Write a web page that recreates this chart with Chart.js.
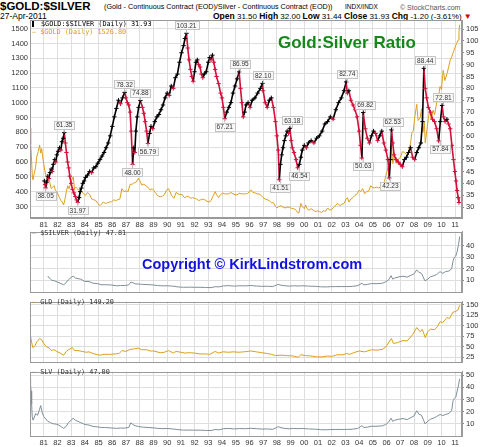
<!DOCTYPE html>
<html>
<head>
<meta charset="utf-8">
<script src="https://cdn.jsdelivr.net/npm/chart.js@4.4.1/dist/chart.umd.min.js"></script>
<style>
  body { margin:0; background:#fff; width:489px; height:447px; overflow:hidden; position:relative; font-family:"Liberation Sans", Arial, sans-serif; }
  canvas { position:absolute; left:0; }
  .t { position:absolute; white-space:nowrap; line-height:1; color:#000; }
  .mono { font-family:"DejaVu Sans Mono", monospace; font-size:6.8px; }
</style>
</head>
<body>
<div class="t" style="left:0;top:1px;font-size:11.5px;font-weight:bold">$GOLD:$SILVER</div>
<div class="t" style="left:104px;top:3px;font-size:7.2px">(Gold - Continuous Contract (EOD)/Silver - Continuous Contract (EOD))</div>
<div class="t" style="left:345px;top:3.5px;font-size:6.5px">INDX/INDX</div>
<div class="t" style="left:400px;top:3.5px;font-size:7px;color:#555">© StockCharts.com</div>
<div class="t" style="left:0;top:12px;font-size:8.5px">27-Apr-2011</div>
<div class="t" style="left:213px;top:12px;font-size:8px"><b style="font-size:8.5px">Open</b> 31.50 <b style="font-size:8.5px">High</b> 32.00 <b style="font-size:8.5px">Low</b> 31.44 <b style="font-size:8.5px">Close</b> 31.93 <b style="font-size:8.5px">Chg</b> -1.20 (-3.61%) <span style="color:#c00">&#9660;</span></div>

<canvas id="main" width="489" height="232" style="top:0"></canvas>
<canvas id="silver" width="489" height="74" style="top:225px"></canvas>
<canvas id="gld" width="489" height="74" style="top:295px"></canvas>
<canvas id="slv" width="489" height="82" style="top:365px"></canvas>

<div class="t mono" style="left:32px;top:21px"><span style="display:inline-block;width:5px;height:6px;border-left:2px solid #000;margin-right:2px;vertical-align:-1px"></span>$GOLD:$SILVER (Daily) 31.93</div>
<div class="t mono" style="left:32px;top:29px;color:#d99a0e">— $GOLD (Daily) 1526.80</div>
<div class="t mono" style="left:32px;top:230px;color:#333"><span style="color:#7f8f97">—</span> $SILVER (Daily) 47.81</div>
<div class="t mono" style="left:32px;top:299px;color:#333"><span style="color:#d99a0e">—</span> GLD (Daily) 149.20</div>
<div class="t mono" style="left:32px;top:369px;color:#333"><span style="color:#7f8f97">—</span> SLV (Daily) 47.00</div>

<div class="t" style="left:278px;top:34px;font-size:17px;font-weight:bold;color:#14891a">Gold:Silver Ratio</div>
<div class="t" style="left:142px;top:257px;font-size:14.5px;font-weight:bold;color:#1212e6">Copyright © KirkLindstrom.com</div>

<script>
// gold:silver ratio (right axis, main panel)
const ratioDates = [1981.05,1981.1,1981.14,1981.22,1981.3,1981.38,1981.46,1981.55,1981.62,1981.7,1981.8,1981.88,1981.96,
  1982.05,1982.15,1982.25,1982.33,1982.42,1982.5,1982.58,1982.66,1982.74,1982.82,1982.9,1983.0,1983.1,1983.2,1983.3,1983.4,1983.48,
  1983.58,1983.66,1983.75,1983.85,1983.95,1984.05,1984.2,1984.35,1984.5,1984.65,1984.8,1984.95,1985.1,1985.25,1985.4,1985.55,
  1985.7,1985.85,1986.0,1986.15,1986.3,1986.45,1986.6,1986.75,1986.9,1987.0,1987.1,1987.2,1987.3,1987.38,1987.48,1987.56,
  1987.64,1987.72,1987.82,1987.92,1988.05,1988.2,1988.3,1988.4,1988.5,1988.6,1988.72,1988.82,1988.95,1989.1,1989.25,1989.4,
  1989.55,1989.7,1989.85,1990.0,1990.15,1990.3,1990.45,1990.6,1990.75,1990.9,1991.05,1991.2,1991.3,1991.41,1991.5,1991.6,
  1991.7,1991.8,1991.9,1992.0,1992.1,1992.2,1992.3,1992.4,1992.5,1992.6,1992.7,1992.85,1993.0,1993.1,1993.2,1993.3,1993.4,
  1993.5,1993.6,1993.75,1993.9,1994.0,1994.1,1994.2,1994.35,1994.5,1994.65,1994.8,1994.95,1995.1,1995.25,1995.35,1995.45,
  1995.55,1995.65,1995.75,1995.9,1996.05,1996.2,1996.4,1996.6,1996.8,1996.95,1997.0,1997.15,1997.3,1997.45,1997.6,1997.75,
  1997.9,1998.0,1998.1,1998.18,1998.26,1998.35,1998.45,1998.55,1998.65,1998.75,1998.85,1998.95,1999.05,1999.13,1999.25,
  1999.4,1999.52,1999.64,1999.75,1999.85,2000.0,2000.15,2000.3,2000.5,2000.7,2000.9,2001.1,2001.3,2001.5,2001.7,2001.9,
  2002.1,2002.3,2002.5,2002.7,2002.9,2003.05,2003.14,2003.25,2003.4,2003.55,2003.7,2003.85,2004.0,2004.1,2004.2,2004.3,
  2004.45,2004.6,2004.75,2004.9,2005.05,2005.2,2005.35,2005.5,2005.65,2005.8,2005.95,2006.1,2006.2,2006.28,2006.36,2006.45,
  2006.55,2006.7,2006.85,2007.0,2007.15,2007.3,2007.45,2007.6,2007.75,2007.9,2008.05,2008.2,2008.35,2008.5,2008.62,2008.72,
  2008.82,2008.92,2009.05,2009.2,2009.35,2009.5,2009.65,2009.8,2009.92,2010.05,2010.15,2010.27,2010.4,2010.52,2010.64,
  2010.76,2010.88,2010.98,2011.06,2011.14,2011.22,2011.28,2011.33];
const ratioValues = [41,39.5,38.05,40.5,43,42,44.5,46,45,48,50,49,52,
  53.5,55,54,57.5,59,61.35,57,53,49,46.5,43,40,37.5,36,34.5,33,31.97,
  34,36.5,38,40,41,42.5,43.5,45,44.5,46.5,47,48.5,50,51.5,53,55,
  57,60,64,68,71.5,75,73.5,76,78.32,76,74,73,70,62,48,55,
  53,62,68,72,74.88,72,69.5,66,62,56.79,61,64,63,66,68,69,
  71,73,76,78,77,81,80,84.5,86,91,95,98,101,103.21,97,92,
  88,85,83,87,91,92,90,89,86,84.5,86,87,91,93,92,94,91,
  88,85,82,78,76,72,67.21,70,72,74,78,81,84,86.95,80,
  74,68,70,73,74,72,75,76,78,80,82.1,79,74,72,75,76,
  72,66,60,54,41.51,48,52,55,58,60,62,61,63.18,58,55,
  53,50,46.54,48,51,54,56,55,57,58,57,59,60,62,65,66,
  68,67,71,74,76,79,82.74,78,79,75,73,71,68,62,56,50.63,
  69.82,63,59,57,60,62,61,58,60,62,57,54,50,42.23,50,62.53,
  57,52,50,49,48,47,50,51,53,55,51,50,53,55,57,66,
  88.44,80,76,72,70,67,66,63,57.84,66,72.81,68,66,67,65,
  63,56,50,45,41,37,34,31.93];

// gold (left axis, main panel)
const goldDates = [1980.0,1980.05,1980.1,1980.17,1980.22,1980.3,1980.4,1980.5,1980.6,1980.7,1980.78,1980.85,1980.95,
  1981.05,1981.15,1981.25,1981.35,1981.45,1981.55,1981.65,1981.75,1981.85,1981.95,1982.05,1982.15,1982.25,1982.35,1982.45,
  1982.55,1982.65,1982.75,1982.85,1982.95,1983.05,1983.15,1983.25,1983.35,1983.45,1983.55,1983.65,1983.75,1983.9,1984.05,
  1984.2,1984.35,1984.5,1984.65,1984.8,1984.95,1985.1,1985.2,1985.35,1985.5,1985.65,1985.8,1985.95,1986.1,1986.25,1986.4,
  1986.55,1986.7,1986.85,1987.0,1987.15,1987.3,1987.45,1987.6,1987.75,1987.9,1988.0,1988.15,1988.3,1988.45,1988.6,1988.75,
  1988.9,1989.05,1989.2,1989.35,1989.5,1989.65,1989.8,1989.95,1990.1,1990.2,1990.35,1990.5,1990.65,1990.8,1990.95,1991.1,
  1991.25,1991.4,1991.55,1991.7,1991.85,1992.0,1992.15,1992.3,1992.45,1992.6,1992.75,1992.9,1993.05,1993.2,1993.35,1993.5,
  1993.6,1993.75,1993.9,1994.05,1994.2,1994.35,1994.5,1994.65,1994.8,1994.95,1995.1,1995.25,1995.4,1995.55,1995.7,1995.85,
  1996.0,1996.1,1996.25,1996.4,1996.55,1996.7,1996.85,1997.0,1997.15,1997.3,1997.45,1997.6,1997.75,1997.9,1998.0,1998.15,
  1998.3,1998.45,1998.6,1998.75,1998.9,1999.05,1999.2,1999.35,1999.5,1999.6,1999.75,1999.85,2000.0,2000.1,2000.2,2000.35,
  2000.5,2000.65,2000.8,2000.95,2001.1,2001.25,2001.4,2001.55,2001.7,2001.85,2002.0,2002.15,2002.3,2002.45,2002.6,2002.75,
  2002.9,2003.05,2003.15,2003.25,2003.4,2003.55,2003.7,2003.85,2004.0,2004.1,2004.25,2004.4,2004.55,2004.7,2004.85,2004.95,
  2005.1,2005.25,2005.4,2005.55,2005.7,2005.85,2005.95,2006.1,2006.25,2006.35,2006.45,2006.55,2006.7,2006.85,2007.0,2007.15,
  2007.3,2007.45,2007.6,2007.75,2007.85,2007.95,2008.05,2008.2,2008.3,2008.45,2008.55,2008.65,2008.75,2008.82,2008.95,
  2009.05,2009.15,2009.25,2009.4,2009.5,2009.65,2009.8,2009.9,2010.0,2010.13,2010.25,2010.42,2010.52,2010.64,2010.75,
  2010.86,2011.0,2011.1,2011.22,2011.28,2011.33];
const goldValues = [830,720,640,500,480,520,560,640,670,715,660,690,620,
  560,510,490,480,460,420,430,440,410,400,380,360,340,330,310,
  350,400,440,420,450,480,500,420,430,420,410,420,400,385,375,
  395,380,350,345,340,320,305,315,330,320,325,330,330,345,340,345,
  350,420,400,405,400,450,450,460,465,490,475,445,450,440,430,410,
  420,405,385,370,365,370,380,410,420,400,370,355,395,385,380,380,
  360,365,370,355,360,355,350,340,345,350,345,335,330,340,370,400,
  380,360,380,390,385,385,385,395,385,380,378,390,385,385,385,387,
  400,412,395,392,385,385,375,360,350,345,340,325,325,300,290,300,
  305,295,290,295,295,288,285,280,260,255,320,300,285,310,285,275,
  285,275,265,270,265,260,270,268,290,275,280,295,310,320,305,315,
  320,350,360,330,350,360,375,385,410,400,420,385,400,405,440,430,
  425,430,425,430,445,470,510,560,600,710,590,640,590,620,630,670,
  665,650,670,730,800,810,900,990,880,900,960,800,870,730,820,
  900,950,890,950,920,1000,1050,1110,1090,1220,1150,1200,1240,1290,1310,
  1340,1376,1400,1424,1480,1527];

// $SILVER panel
const silverDates = [1981.3,1981.4,1981.5,1981.6,1981.8,1982.0,1982.2,1982.45,1982.6,1982.8,1983.0,1983.15,1983.3,1983.5,
  1983.7,1984.0,1984.3,1984.6,1984.9,1985.2,1985.5,1985.9,1986.3,1986.6,1986.9,1987.2,1987.35,1987.5,1987.65,1987.9,1988.2,
  1988.6,1988.9,1989.3,1989.7,1990.0,1990.4,1990.8,1991.2,1991.6,1992.0,1992.4,1992.8,1993.2,1993.5,1993.8,1994.1,1994.5,
  1994.9,1995.3,1995.7,1996.1,1996.5,1996.9,1997.3,1997.7,1997.95,1998.1,1998.3,1998.6,1998.9,1999.2,1999.6,1999.9,2000.3,
  2000.8,2001.2,2001.6,2001.9,2002.3,2002.7,2003.1,2003.5,2003.9,2004.2,2004.35,2004.6,2004.9,2005.3,2005.7,2005.95,2006.15,
  2006.33,2006.45,2006.6,2006.9,2007.2,2007.5,2007.8,2008.0,2008.2,2008.35,2008.55,2008.7,2008.8,2009.0,2009.2,2009.45,
  2009.65,2009.9,2010.1,2010.3,2010.55,2010.75,2010.85,2010.95,2011.05,2011.15,2011.25,2011.33];
const silverValues = [13.7,12,11,10,9.5,8.5,7.5,6.2,7.5,10.5,12.5,13.7,12,11.5,
  11,9,9,7.5,7.2,6.2,6.2,6,5.3,5.5,5.5,6,8.5,8,7,6.8,6.5,
  6.3,6.1,5.5,5.2,5.3,5,4.3,4,4.1,4,4,3.8,3.7,4.5,4.3,5.2,5.4,
  5,5.3,5.2,5.5,5.1,4.8,4.9,4.6,5.8,6.5,5.8,5.3,5,5.3,5.1,5.3,5,
  4.8,4.4,4.3,4.5,4.6,4.6,4.6,4.8,5.4,7.5,6,6.5,7.2,7.1,7.5,8.8,10.5,
  14,11,12,13,13.5,12.8,14.5,15.5,19,17,16,12,9.5,11,13,14,
  15,17.5,16,17.5,18,20,27,30,31,35,41,47.81];

// GLD panel
const gldDates = [1980.0,1980.1,1980.2,1980.35,1980.5,1980.7,1980.85,1981.0,1981.2,1981.4,1981.55,1981.75,1981.95,1982.2,
  1982.45,1982.65,1982.8,1983.1,1983.25,1983.5,1983.8,1984.1,1984.3,1984.6,1984.95,1985.1,1985.4,1985.8,1986.2,1986.5,1986.7,
  1987.0,1987.3,1987.6,1987.9,1988.15,1988.5,1988.75,1989.0,1989.5,1989.8,1990.1,1990.45,1990.65,1991.0,1991.3,1991.6,1992.0,
  1992.4,1992.8,1993.1,1993.5,1993.75,1994.05,1994.5,1994.8,1995.2,1995.6,1996.1,1996.5,1996.9,1997.3,1997.6,1997.9,1998.3,
  1998.7,1999.2,1999.55,1999.75,2000.1,2000.5,2000.9,2001.3,2001.7,2002.0,2002.4,2002.8,2003.1,2003.3,2003.7,2004.0,2004.4,
  2004.9,2005.3,2005.7,2005.95,2006.35,2006.5,2006.8,2007.2,2007.5,2007.9,2008.2,2008.45,2008.6,2008.82,2009.0,2009.2,2009.5,
  2009.7,2009.9,2010.1,2010.4,2010.6,2010.85,2011.0,2011.2,2011.33];
const gldValues = [83,64,48,52,62,70,67,58,50,47,41,43,39,35,
  30,39,43,48,41,41,39,37,38,34,31,30,32,32,33,34,41,
  39,44,45,47,43,43,40,40,36,37,41,35,39,37,35,36,35,
  33,33,32,39,35,38,37,38,37,38,40,38,36,34,32,29,30,
  29,28,25,31,29,28,26,26,28,27,31,31,34,32,37,40,38,
  43,42,44,50,70,58,60,65,64,79,96,86,92,72,86,92,91,
  98,110,108,120,118,133,134,138,149.2];

// SLV panel
const slvDates = [1980.0,1980.04,1980.08,1980.12,1980.16,1980.22,1980.3,1980.42,1980.55,1980.7,1980.78,1980.9,1981.0,1981.15,
  1981.3,1981.5,1981.7,1981.9,1982.1,1982.3,1982.45,1982.65,1982.8,1983.0,1983.15,1983.3,1983.5,1983.7,1984.0,1984.3,1984.6,
  1984.9,1985.2,1985.5,1985.9,1986.3,1986.6,1986.9,1987.2,1987.35,1987.5,1987.65,1987.9,1988.2,1988.6,1988.9,1989.3,1989.7,
  1990.0,1990.4,1990.8,1991.2,1991.6,1992.0,1992.4,1992.8,1993.2,1993.5,1993.8,1994.1,1994.5,1994.9,1995.3,1995.7,1996.1,
  1996.5,1996.9,1997.3,1997.7,1997.95,1998.1,1998.3,1998.6,1998.9,1999.2,1999.6,1999.9,2000.3,2000.8,2001.2,2001.6,2001.9,
  2002.3,2002.7,2003.1,2003.5,2003.9,2004.2,2004.35,2004.6,2004.9,2005.3,2005.7,2005.95,2006.15,2006.33,2006.45,2006.6,
  2006.9,2007.2,2007.5,2007.8,2008.0,2008.2,2008.35,2008.55,2008.7,2008.8,2009.0,2009.2,2009.45,2009.65,2009.9,2010.1,
  2010.3,2010.55,2010.75,2010.85,2010.95,2011.05,2011.15,2011.25,2011.33];
const slvValues = [47,42,37,26,16,13,15,18.5,17,22,25,19,16,14,
  12,11,10,9.8,9,7.5,6.3,8,11,13,14.6,13,12,11,9.5,9,7.8,
  7.5,7,7,6.6,6.3,6.5,6.5,7,10.8,9.5,8.5,7.8,7.3,7,6.8,6.3,6,
  6.2,5.8,5.2,4.8,4.9,4.8,4.8,4.6,4.5,5.3,5.1,6,6.2,5.8,6.1,6,6.3,
  6,5.7,5.8,5.5,6.7,7.7,6.8,6.2,5.9,6.2,6,6.2,5.8,5.6,5.2,5.1,5.3,
  5.4,5.4,5.4,5.6,6.2,8.5,7,7.3,8,8,8.4,9.5,11.5,
  14.6,12,13,13.8,14.3,13.5,15.3,16.5,20.8,18,17,13,10,12,13.8,14.8,
  16,17.7,16.8,17.7,18.5,21,29,31,32,37,42,47];

// peak / trough notes on the ratio
const noteDates = [1981.14,1982.5,1983.48,1986.9,1987.48,1988.05,1988.6,1991.41,1994.2,1995.35,1997.0,1998.26,1999.13,
  1999.64,2003.14,2004.3,2004.45,2006.28,2006.45,2008.82,2009.92,2010.15];
const noteValues = [38.05,61.35,31.97,78.32,48.00,74.88,56.79,103.21,67.21,86.95,82.10,41.51,63.18,
  46.54,82.74,50.63,69.82,42.23,62.53,88.44,57.84,72.81];
const noteKinds = ['low','high','low','high','low','high','low','high','low','high','high','low','high',
  'low','high','low','high','low','high','high','low','high'];

const yearTicks = [];
for (let y = 1980; y <= 2011; y++) yearTicks.push(y);

const goldTicks = [300,400,500,600,700,800,900,1000,1100,1200,1300,1400,1500];
const ratioTicks = [30,35,40,45,50,55,60,65,70,75,80,85,90,95,100,105];
const silverTicks = [10,20,30,40];
const gldTicks = [25,50,75,100,125,150];
const slvTicks = [10,20,30,40,50];

const RED = '#d3103c', GOLDC = '#dc9f1c', SILV = '#7f8f97';
const tickFont = { family: '"Liberation Sans", Arial, sans-serif', size: 7.5 };

function pts(xs, ys) { return xs.map((x, i) => ({ x: x, y: ys[i] })); }

const frame = {
  id: 'frame',
  afterDraw(chart) {
    const a = chart.chartArea, c = chart.ctx;
    c.save();
    c.strokeStyle = '#9a9a9a';
    c.lineWidth = 1;
    c.strokeRect(Math.round(a.left) + 0.5, Math.round(a.top) + 0.5, Math.round(a.right - a.left) - 1, Math.round(a.bottom - a.top) - 1);
    c.restore();
  }
};

const notes = {
  id: 'notes',
  afterDatasetsDraw(chart) {
    const c = chart.ctx, xs = chart.scales.x, ys = chart.scales.y2;
    c.save();
    c.font = '6.5px "Liberation Sans", Arial, sans-serif';
    c.textAlign = 'center';
    c.textBaseline = 'middle';
    noteValues.forEach((v, i) => {
      const x = xs.getPixelForValue(noteDates[i]);
      const py = ys.getPixelForValue(v);
      const y = noteKinds[i] === 'high' ? py - 8 : py + 8;
      const txt = v.toFixed(2);
      const w = c.measureText(txt).width + 4;
      c.strokeStyle = '#bbb';
      c.beginPath();
      c.moveTo(x, noteKinds[i] === 'high' ? y + 4 : y - 4);
      c.lineTo(x, py);
      c.stroke();
      c.fillStyle = '#f7f7f7';
      c.fillRect(x - w / 2, y - 4, w, 8);
      c.strokeStyle = '#c4c4c4';
      c.strokeRect(Math.round(x - w / 2) + 0.5, Math.round(y - 4) + 0.5, Math.round(w), 8);
      c.fillStyle = '#333';
      c.fillText(txt, x, y + 0.5);
    });
    c.restore();
  }
};

function xAxis(showLabels, h) {
  return {
    type: 'linear', min: 1980, max: 2011.5,
    afterBuildTicks: s => { s.ticks = yearTicks.map(v => ({ value: v })); },
    afterFit: s => { s.height = h; },
    ticks: { display: showLabels, autoSkip: false, maxRotation: 0, padding: 2, font: tickFont, color: '#333',
      callback: v => v === 1980 ? '' : String(v).slice(2) },
    grid: { color: '#dedede', drawTicks: false },
    border: { color: '#9a9a9a' }
  };
}

function rightAxis(min, max, list, grid) {
  return {
    type: 'linear', position: 'right', min: min, max: max,
    afterBuildTicks: s => { s.ticks = list.map(v => ({ value: v })); },
    afterFit: s => { s.width = 27; },
    ticks: { font: tickFont, color: '#333', padding: 2, autoSkip: false, callback: v => String(v) },
    grid: { display: true, drawOnChartArea: grid, color: '#dedede', tickLength: 2, tickColor: '#888' },
    border: { color: '#9a9a9a' }
  };
}

const base = {
  responsive: false, animation: false, devicePixelRatio: 1,
  plugins: { legend: { display: false }, tooltip: { enabled: false } },
  elements: { point: { radius: 0 }, line: { tension: 0 } }
};

function dirColor(vals, i) { return i > 0 && vals[i] < vals[i - 1] ? RED : '#000'; }

new Chart(document.getElementById('main'), {
  type: 'line',
  data: {
    datasets: [
      { data: pts(ratioDates, ratioValues), yAxisID: 'y2', borderWidth: 1.6,
        segment: { borderColor: s => s.p1.parsed.y < s.p0.parsed.y ? RED : '#000' },
        pointStyle: 'cross', pointRadius: 2.2, pointBorderWidth: 1,
        pointBorderColor: c => dirColor(ratioValues, c.dataIndex) },
      { data: pts(goldDates, goldValues), yAxisID: 'y', borderColor: GOLDC, borderWidth: 1 }
    ]
  },
  options: Object.assign({}, base, {
    layout: { padding: { top: 20, left: 0, right: 0, bottom: 0 } },
    scales: {
      x: xAxis(true, 14),
      y: { type: 'linear', position: 'left', min: 222, max: 1559,
        afterBuildTicks: s => { s.ticks = goldTicks.map(v => ({ value: v })); },
        afterFit: s => { s.width = 30; },
        ticks: { font: tickFont, color: '#333', padding: 2, autoSkip: false, callback: v => String(v) },
        grid: { color: '#dedede', drawTicks: false },
        border: { color: '#9a9a9a' } },
      y2: rightAxis(25.4, 108.8, ratioTicks, false)
    }
  }),
  plugins: [frame, notes]
});

function panel(id, dates, vals, color, min, max, list, xh, padBottom) {
  new Chart(document.getElementById(id), {
    type: 'line',
    data: { datasets: [{ data: pts(dates, vals), yAxisID: 'y', borderColor: color, borderWidth: 1 }] },
    options: Object.assign({}, base, {
      layout: { padding: { top: 2, left: 30, right: 0, bottom: padBottom } },
      scales: { x: xAxis(xh > 0, xh), y: rightAxis(min, max, list, true) }
    }),
    plugins: [frame]
  });
}

panel('silver', silverDates, silverValues, SILV, -0.5, 52.1, silverTicks, 0, 2);
panel('gld', gldDates, gldValues, GOLDC, 12.5, 158.3, gldTicks, 0, 2);
panel('slv', slvDates, slvValues, SILV, 0, 53, slvTicks, 11, 0);
</script>
</body>
</html>
